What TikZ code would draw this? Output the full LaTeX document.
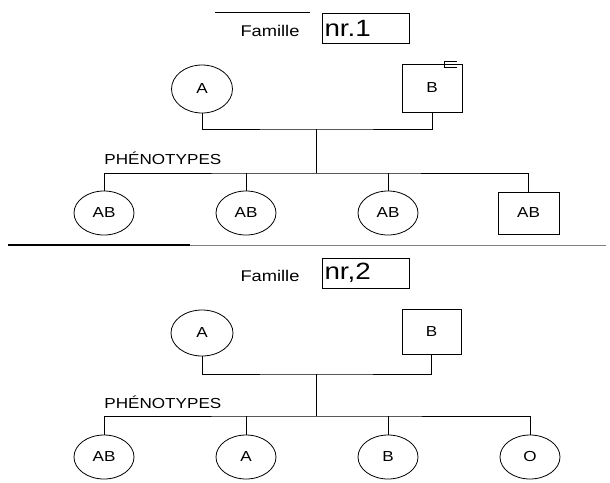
\documentclass[tikz,border=0pt]{standalone}
\usepackage{fontspec}
\newfontfamily\scanfont{Liberation Sans}[FakeStretch=1.18]
\usetikzlibrary{shapes.geometric}
\newcommand{\famfont}{\scanfont\fontsize{15.5}{18}\selectfont}
\newcommand{\nrfont}{\scanfont\fontsize{23.5}{25}\selectfont}
\newcommand{\phenofont}{\scanfont\fontsize{14.5}{16}\selectfont}

\begin{document}
\begin{tikzpicture}[x=1pt, y=1pt, line width=0.8pt,
        nrbox/.style={draw, rectangle, minimum height=30pt, text width=82pt,
                      inner xsep=2.5pt, inner ysep=0pt, align=left, font=\nrfont},
        famlbl/.style={font=\famfont, inner sep=0pt},
        phenolbl/.style={font=\phenofont, inner sep=0pt, anchor=west}]
            \useasboundingbox (0,0) rectangle (610,-482);

            % family 1
            \draw[line width=1pt] (215,-12) -- (310,-12);
            \node (F1) [famlbl] at (270,-31) {Famille};
            \node (N1) [nrbox] at (365.5,-28) {nr.1};
            \begin{scope}[every node/.style={draw, inner sep=0pt, font=\phenofont}]
                \node (A1) [ellipse, minimum width=61pt, minimum height=48pt] at (202,-89) {A};
                \node (B1) [rectangle, minimum width=60pt, minimum height=48pt] at (432,-88) {B};
                \node (C11) [ellipse, minimum width=60pt, minimum height=44pt] at (104,-213) {AB};
                \node (C12) [ellipse, minimum width=60pt, minimum height=44pt] at (246,-213) {AB};
                \node (C13) [ellipse, minimum width=60pt, minimum height=44pt] at (388,-213) {AB};
                \node (C14) [rectangle, minimum width=61pt, minimum height=42pt] at (528.5,-213) {AB};
            \end{scope}
            \draw (457,-61) -- (444,-61) -- (444,-67) -- (457,-67);
            \coordinate (M1) at (316,-129);
            \coordinate (K1) at (316,-173);
            \node (P1) [phenolbl] at (104,-158) {PHÉNOTYPES};
            \draw (A1.south) |- (M1) -| (B1.south);
            \draw (M1) -- (K1);
            \draw (C11.north) |- (K1) -| (C14.north);
            \draw (C12.north) -- (C12.north |- K1);
            \draw (C13.north) -- (C13.north |- K1);

            % separator
            \draw[gray, line width=1pt] (8,-245) -- (606,-245);
            \draw[line width=1.2pt] (8,-245) -- (190,-245);

            % family 2
            \node (F2) [famlbl] at (270,-276) {Famille};
            \node (N2) [nrbox] at (365.5,-273) {nr,2};
            \begin{scope}[every node/.style={draw, inner sep=0pt, font=\phenofont}]
                \node (A2) [ellipse, minimum width=62pt, minimum height=46pt] at (202,-333) {A};
                \node (B2) [rectangle, minimum width=59pt, minimum height=45pt] at (431.5,-332) {B};
                \node (C21) [ellipse, minimum width=60pt, minimum height=44pt] at (104,-457) {AB};
                \node (C22) [ellipse, minimum width=60pt, minimum height=44pt] at (246,-457) {A};
                \node (C23) [ellipse, minimum width=60pt, minimum height=44pt] at (388,-457) {B};
                \node (C24) [ellipse, minimum width=60pt, minimum height=44pt] at (530,-457) {O};
            \end{scope}
            \coordinate (M2) at (316,-374);
            \coordinate (K2) at (316,-416);
            \node (P2) [phenolbl] at (104,-402) {PHÉNOTYPES};
            \draw (A2.south) |- (M2) -| (B2.south);
            \draw (M2) -- (K2);
            \draw (C21.north) |- (K2) -| (C24.north);
            \draw (C22.north) -- (C22.north |- K2);
            \draw (C23.north) -- (C23.north |- K2);
        \end{tikzpicture}
\end{document}
